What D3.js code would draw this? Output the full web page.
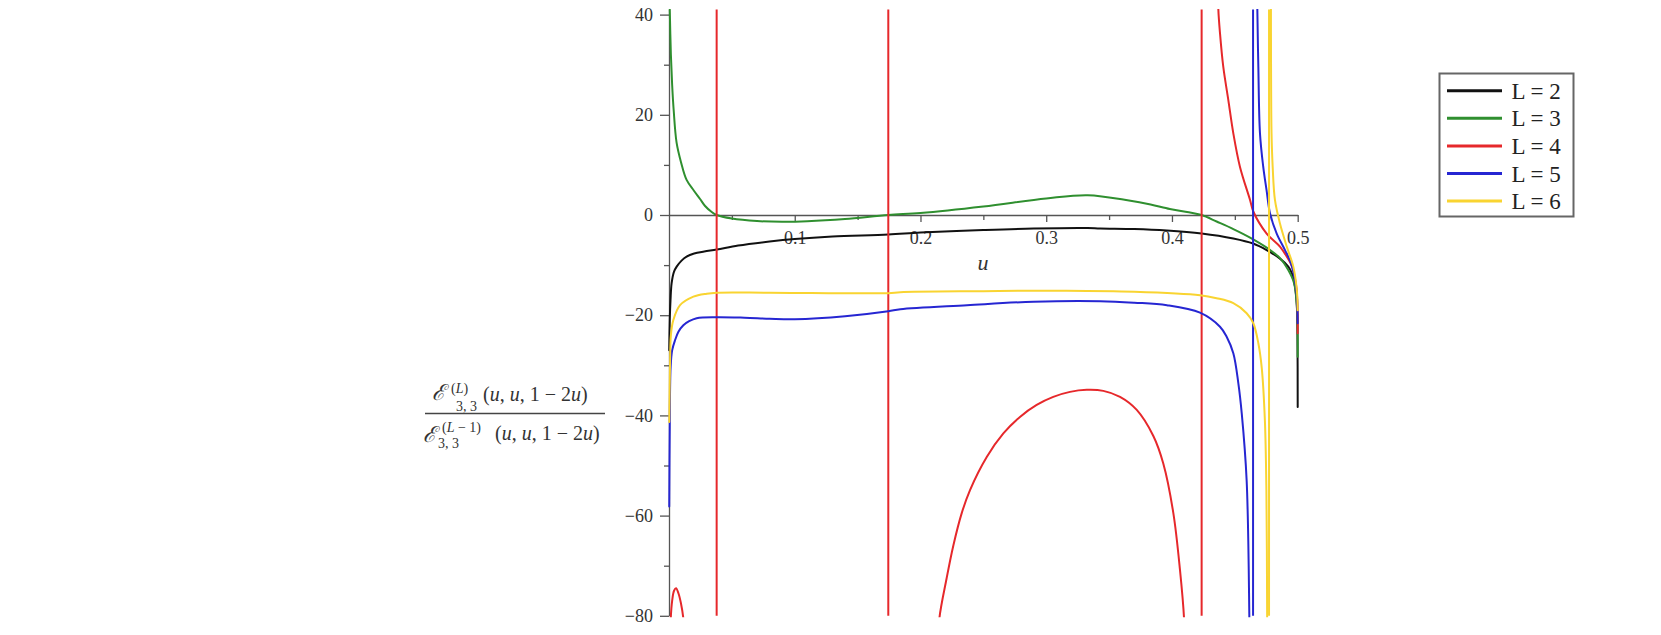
<!DOCTYPE html>
<meta charset="utf-8">
<style>
 body { margin: 0; background: #fff; }
 svg { display: block; font-family: 'Liberation Serif', 'Times New Roman', serif; }
 .axis path, .axis line { fill: none; stroke: #555; stroke-width: 1.3; }
 .axis text { fill: #333; font-size: 18px; font-family: 'Liberation Serif', serif; }
 .curve { fill: none; stroke-width: 2; stroke-linejoin: round; stroke-linecap: round; }
 .pole { stroke-width: 2; }
</style>
<body>
<script src="https://d3js.org/d3.v7.min.js"></script>
<script>

 // tick values
 var xTicks = [0.1, 0.2, 0.3, 0.4, 0.5];
 var xMinor = [0.05, 0.15, 0.25, 0.35, 0.45];
 var yTicks = [-80, -60, -40, -20, 0, 20, 40];
 var yMinor = [-70, -50, -30, -10, 10, 30];

 var names = ["L = 2", "L = 3", "L = 4", "L = 5", "L = 6"];
 var colors = ["#111111", "#2f8f2f", "#e6282b", "#2626d2", "#f9d431"];

 // curves, [u, value]; values past the frame mean "runs off"
 var L2 = [[0.0002,-27],[0.0006,-21],[0.0012,-17],[0.0021,-13.6],[0.004,-11.3],[0.0061,-10.3],
           [0.01,-9.1],[0.014,-8.3],[0.02,-7.7],[0.028,-7.3],[0.038,-6.9],[0.055,-6.1],[0.08,-5.3],
           [0.1,-4.8],[0.13,-4.3],[0.1744,-3.9],[0.2,-3.5],[0.25,-3.0],[0.29,-2.7],[0.333,-2.6],
           [0.343,-2.7],[0.37,-2.8],[0.396,-3.1],[0.4236,-3.7],[0.4488,-4.7],[0.4645,-5.7],
           [0.4753,-7],[0.4859,-8.7],[0.4925,-10.3],[0.4955,-11.7],[0.498,-14.5],[0.4993,-18],
           [0.4998,-24],[0.5,-38.3]];

 var L3 = [[0.0001,46],[0.0007,40],[0.0015,32],[0.0025,26],[0.0037,21],[0.006,14.5],[0.0096,10.5],
           [0.014,7],[0.0197,4.9],[0.0247,3.2],[0.0287,1.8],[0.0335,0.7],[0.0379,0],[0.05,-0.7],
           [0.07,-1.2],[0.09,-1.35],[0.11,-1.25],[0.14,-0.8],[0.1744,0],[0.2,0.4],[0.25,1.7],
           [0.3,3.3],[0.333,3.95],[0.3658,2.9],[0.383,2.1],[0.3983,1.2],[0.412,0.6],[0.4236,0],
           [0.4355,-1.3],[0.4488,-2.8],[0.4621,-4.5],[0.4753,-6.5],[0.4859,-8.6],[0.4925,-11],
           [0.497,-13.5],[0.4993,-18],[0.5,-28.3]];

 var L4a = [[0.0011,-84],[0.0014,-80.5],[0.0025,-77],[0.004,-75],[0.0056,-74.5],[0.0075,-75.5],
            [0.0095,-77.5],[0.0114,-80.5],[0.0125,-84]];
 var L4b = [[0.2146,-85],[0.215,-80.6],[0.2208,-72.5],[0.2261,-66],[0.2328,-59.5],[0.2394,-54.9],
            [0.2527,-48.3],[0.2659,-43.6],[0.2791,-40.3],[0.2924,-37.9],[0.3056,-36.3],[0.3189,-35.3],
            [0.3322,-34.9],[0.3454,-35.1],[0.3587,-36.3],[0.372,-38.9],[0.3852,-44.1],[0.3931,-49.6],
            [0.4011,-59.5],[0.4064,-70.9],[0.4096,-80.5],[0.41,-85]];
 var L4c = [[0.4368,45],[0.4369,41],[0.4382,36.3],[0.4408,29.6],[0.4448,23],[0.4488,16.3],
            [0.4541,9.6],[0.4621,3],[0.4647,0.7],[0.4753,-3.7],[0.4859,-6.3],[0.4913,-8.3],
            [0.4955,-10.3],[0.4987,-14],[0.4998,-18],[0.5,-23.6]];
 var L4poles = [0.0379, 0.1744, 0.4236];

 var L5a = [[0.0002,-58.2],[0.0006,-42],[0.0013,-30.3],[0.0025,-27],[0.0048,-25],[0.0075,-23.3],
            [0.0114,-22],[0.016,-21.2],[0.022,-20.6],[0.038,-20.4],[0.06,-20.5],[0.08,-20.7],
            [0.1,-20.8],[0.14,-20.2],[0.1744,-19.2],[0.184,-18.8],[0.237,-18],[0.29,-17.3],
            [0.343,-17.2],[0.37,-17.5],[0.396,-18],[0.4223,-19.5],[0.4382,-22.3],[0.4435,-24.3],
            [0.4488,-27.6],[0.4528,-33.6],[0.4555,-39.6],[0.4594,-53],[0.4615,-79.5],[0.4618,-90]];
 var L5b = [[0.4678,45],[0.4679,41],[0.4687,29.6],[0.47,16.3],[0.4726,9.6],[0.4752,5],
            [0.478,0.3],[0.4833,-3.7],[0.4899,-7],[0.4945,-9.5],[0.4975,-12.5],[0.4993,-16],[0.5,-21.6]];
 var L5poles = [0.4645];

 var L6a = [[0.0002,-41.3],[0.0008,-30],[0.0015,-24],[0.0034,-21],[0.0088,-18],[0.0194,-16.3],
            [0.03,-15.7],[0.038,-15.5],[0.08,-15.5],[0.1744,-15.6],[0.184,-15.4],[0.25,-15.2],
            [0.316,-15.1],[0.37,-15.3],[0.4223,-16],[0.4355,-16.6],[0.4488,-17.6],[0.4594,-19.6],
            [0.4647,-21.6],[0.4687,-25.6],[0.4714,-30.5],[0.4739,-41],[0.4751,-55],[0.4757,-80],
            [0.4759,-90]];
 var L6b = [[0.4787,45],[0.4788,30],[0.4792,16.3],[0.4801,9.6],[0.4819,3],[0.4859,-1.7],
            [0.4913,-6.3],[0.4965,-10.3],[0.4993,-15],[0.5,-19]];
 var L6poles = [0.4772];

 var series = [
     { branches: [L2], poles: [] },
     { branches: [L3], poles: [] },
     { branches: [L4a, L4b, L4c], poles: L4poles },
     { branches: [L5a, L5b], poles: L5poles },
     { branches: [L6a, L6b], poles: L6poles }
 ];

 var width = 1661, height = 635;

 var xScale = d3.scaleLinear().domain([0, 0.5]).range([669, 1297.7]);
 var yScale = d3.scaleLinear().domain([-80, 41]).range([615.8, 9.6]);

 var svg = d3.select("body").append("svg")
             .attr("width", width)
             .attr("height", height);

 // axes
 svg.append("g")
    .attr("class", "axis")
    .attr("transform", "translate(669,0)")
    .call(d3.axisLeft(yScale).tickValues(yTicks).tickSize(9).tickPadding(7).tickSizeOuter(0));

 var yMin = svg.append("g")
    .attr("class", "axis")
    .attr("transform", "translate(669,0)")
    .call(d3.axisLeft(yScale).tickValues(yMinor).tickSize(5).tickFormat(""));
 yMin.select(".domain").remove();

 svg.append("g")
    .attr("class", "axis")
    .attr("transform", "translate(0," + yScale(0) + ")")
    .call(d3.axisBottom(xScale).tickValues(xTicks).tickSize(7).tickPadding(9)
          .tickSizeOuter(0).tickFormat(d3.format(".1f")));

 var xMin = svg.append("g")
    .attr("class", "axis")
    .attr("transform", "translate(0," + yScale(0) + ")")
    .call(d3.axisBottom(xScale).tickValues(xMinor).tickSize(5).tickFormat(""));
 xMin.select(".domain").remove();

 // u label
 svg.append("text")
    .attr("x", 983)
    .attr("y", 270)
    .attr("text-anchor", "middle")
    .attr("font-size", "22px")
    .attr("font-style", "italic")
    .attr("fill", "#333")
    .text("u");

 // y label, a fraction
 var lab = svg.append("g").attr("fill", "#333");
 function tuple(x, y) {
     var t = lab.append("text").attr("x", x).attr("y", y).attr("font-size", "20px");
     var parts = [["(", 0], ["u", 1], [", ", 0], ["u", 1], [", 1 \u2212 2", 0], ["u", 1], [")", 0]];
     parts.forEach(function(p) {
         t.append("tspan").attr("font-style", p[1] ? "italic" : "normal").text(p[0]);
     });
 }
 function bigE(x, y, sup, subX, subY, supX, supY) {
     lab.append("text").attr("x", x).attr("y", y).attr("font-size", "22px")
        .attr("font-style", "italic").text("\u2130");
     var s = lab.append("text").attr("x", supX).attr("y", supY).attr("font-size", "14px");
     s.append("tspan").text("(");
     s.append("tspan").attr("font-style", "italic").text("L");
     s.append("tspan").text(sup + ")");
     lab.append("text").attr("x", subX).attr("y", subY).attr("font-size", "14px").text("3, 3");
 }
 bigE(432, 400, "", 456, 411, 451, 393);
 tuple(483, 401);
 lab.append("line")
    .attr("x1", 425).attr("x2", 605)
    .attr("y1", 413.5).attr("y2", 413.5)
    .attr("stroke", "#444").attr("stroke-width", 1.5);
 bigE(423, 442, " \u2212 1", 438, 448, 442, 432);
 tuple(495, 440);

 // curves
 svg.append("clipPath")
    .attr("id", "clip")
    .append("rect")
    .attr("x", 660).attr("y", yScale(41) - 0.5)
    .attr("width", 650).attr("height", yScale(-80) - yScale(41) + 2);

 var chart = svg.append("g").attr("clip-path", "url(#clip)");

 var line = d3.line()
              .x(function(d) { return xScale(d[0]); })
              .y(function(d) { return yScale(d[1]); })
              .curve(d3.curveCatmullRom.alpha(0.5));

 series.forEach(function(s, i) {
     s.branches.forEach(function(b) {
         chart.append("path")
              .datum(b)
              .attr("class", "curve")
              .attr("stroke", colors[i])
              .attr("d", line);
     });
     chart.selectAll(".pole-" + i)
          .data(s.poles)
          .enter()
          .append("line")
          .attr("class", "pole pole-" + i)
          .attr("stroke", colors[i])
          .attr("x1", function(d) { return xScale(d); })
          .attr("x2", function(d) { return xScale(d); })
          .attr("y1", yScale(41))
          .attr("y2", yScale(-80));
 });

 // legend
 var leg = svg.append("g");
 leg.append("rect")
    .attr("x", 1439.5).attr("y", 73.5)
    .attr("width", 134).attr("height", 143)
    .attr("fill", "#fff")
    .attr("stroke", "#666")
    .attr("stroke-width", 2);
 names.forEach(function(n, i) {
     var yy = 90.7 + i * 27.6;
     leg.append("line")
        .attr("x1", 1447).attr("x2", 1502)
        .attr("y1", yy).attr("y2", yy)
        .attr("stroke", colors[i])
        .attr("stroke-width", 3);
     leg.append("text")
        .attr("x", 1511.5).attr("y", yy)
        .attr("dy", "0.35em")
        .attr("font-size", "23px")
        .attr("fill", "#222")
        .text(n);
 });

</script>
